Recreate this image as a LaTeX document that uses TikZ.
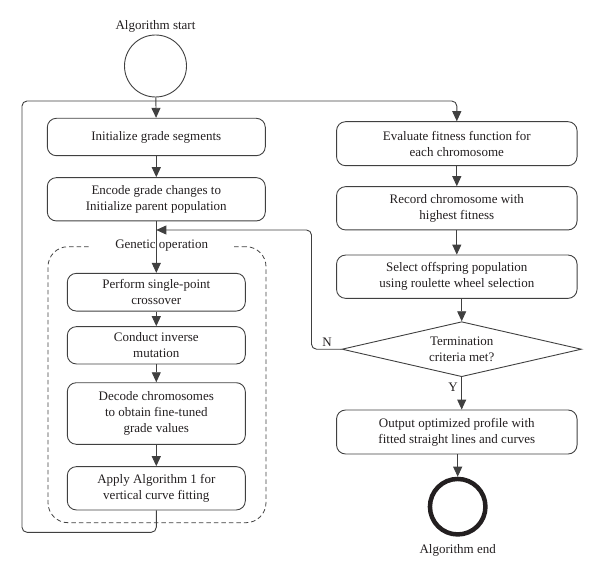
\documentclass[tikz,border=0pt]{standalone}
\usepackage{fontspec}
\setmainfont{Liberation Serif}
\usetikzlibrary{arrows.meta,shapes.geometric,calc}
\definecolor{linegray}{HTML}{404040}
\definecolor{textgray}{HTML}{231F20}
\begin{document}
\begin{tikzpicture}[x=1pt,y=-1pt,
        every node/.style={text=textgray,font=\fontsize{13}{16}\selectfont},
        box/.style={draw=linegray,line width=0.9pt,rounded corners=9pt,align=center,inner sep=0pt,minimum width=218pt},
        inbox/.style={box,minimum width=178pt},
        rbox/.style={box,minimum width=240.5pt},
        flow/.style={draw=linegray,line width=0.9pt,-{Triangle[length=10pt,width=9pt]}},
        loopline/.style={flow,rounded corners=5pt}]
        \useasboundingbox (0,0) rectangle (600,580);

        \node (startlbl) at (155.5, 26) {Algorithm start};
        \node[circle, draw=linegray, line width=0.9pt, minimum size=62pt, inner sep=0pt] (start) at (155.5, 66) {};

        \node[box, minimum height=37.4pt] (init) at (156.3, 137) {Initialize grade segments};
        \node[box, minimum height=43.3pt] (encode) at (156.3, 199.3) {Encode grade changes to\\Initialize parent population};

        \node[draw=linegray, line width=0.8pt, dash pattern=on 4.5pt off 3pt, rounded corners=20pt,
              minimum width=218pt, minimum height=276pt] (genbox) at (157, 384.7) {};
        \node[fill=white, inner xsep=26pt, inner ysep=1pt] (genlbl) at (161.7, 245.7) {Genetic operation};

        \node[inbox, minimum height=37.7pt] (perform) at (156.3, 292.2) {Perform single-point\\crossover};
        \node[inbox, minimum height=37.3pt] (conduct) at (156.3, 345.3) {Conduct inverse\\mutation};
        \node[inbox, minimum height=61.6pt] (decode) at (156.3, 413.5) {Decode chromosomes\\to obtain fine-tuned\\grade values};
        \node[inbox, minimum height=43.3pt] (apply) at (156.3, 488.3) {Apply Algorithm 1 for\\vertical curve fitting};

        \node[rbox, minimum height=44pt] (evaluate) at (456.8, 143.7) {Evaluate fitness function for\\each chromosome};
        \node[rbox, minimum height=43.3pt] (record) at (456.8, 208.3) {Record chromosome with\\highest fitness};
        \node[rbox, minimum height=43.3pt] (select) at (456.8, 276.7) {Select offspring population\\using roulette wheel selection};
        \node[diamond, aspect=4.36, draw=linegray, line width=0.9pt, align=center, inner sep=0pt,
              minimum width=239.5pt, minimum height=55pt] (term) at (461.7, 349.2) {Termination\\criteria met?};
        \node[rbox, minimum height=44pt] (output) at (456.8, 432) {Output optimized profile with\\fitted straight lines and curves};

        \node[circle, draw=textgray, line width=4.5pt, minimum size=55.5pt, inner sep=0pt] (endc) at (457.7, 506.7) {};
        \node (endlbl) at (457.7, 550.7) {Algorithm end};

        \node (nlbl) at (327, 342) {N};
        \node (ylbl) at (453, 387.3) {Y};

        \coordinate (loopbl) at (22, 532.3);
        \coordinate (looptl) at (22, 101);
        \coordinate (fbturn) at (311.5, 230);

        \draw[flow] (start) -- (init);
        \draw[flow] (init) -- (encode);
        \draw[flow] (encode) -- (perform);
        \draw[flow] (perform) -- (conduct);
        \draw[flow] (conduct) -- (decode);
        \draw[flow] (decode) -- (apply);
        \draw[loopline] (apply.south) |- (loopbl) -- (looptl) -| (evaluate.north);

        \draw[flow] (evaluate) -- (record);
        \draw[flow] (record) -- (select);
        \draw[flow] (term.north |- select.south) -- (term.north);
        \draw[loopline] (term.west) -| (fbturn) -- (encode.south |- fbturn);
        \draw[flow] (term.south) -- (term.south |- output.north);
        \draw[flow] (output.south -| endc.north) -- (endc.north);
    \end{tikzpicture}
\end{document}
